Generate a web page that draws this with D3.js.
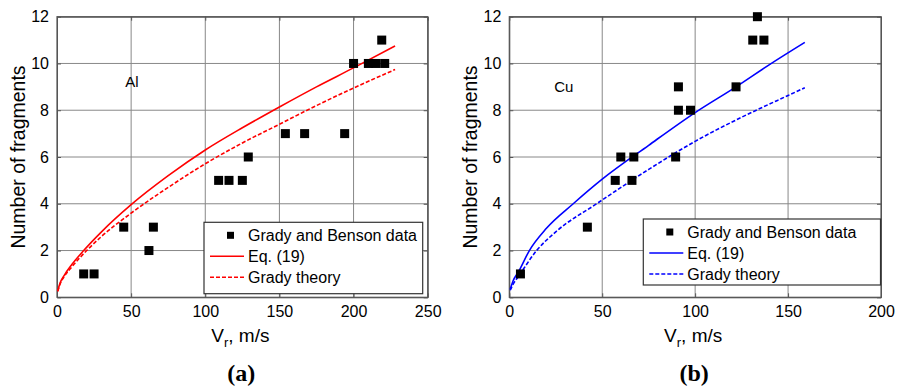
<!DOCTYPE html>
<html>
<head>
<meta charset="utf-8">
<script src="https://cdn.jsdelivr.net/npm/d3@7"></script>
<style>
  body { margin: 0; background: #fff; }
  text { font-family: "Liberation Sans", Arial, sans-serif; }
</style>
</head>
<body>
<svg id="chart" width="903" height="390"></svg>
<script>
// Al panel (a)
const alDataV = [18, 25, 45, 62, 65, 109, 116, 125, 129, 154, 167, 194, 200, 210, 215, 219, 221];
const alDataN = [1, 1, 3, 2, 3, 5, 5, 5, 6, 7, 7, 7, 10, 10, 10, 11, 10];
const alEqV = [0.5, 2, 5, 10, 18, 30, 50, 75, 100, 125, 150, 175, 200, 228];
const alEqN = [0.28, 0.6, 0.95, 1.4, 2.0, 2.8, 3.96, 5.2, 6.3, 7.25, 8.14, 9.0, 9.81, 10.75];
const alGradyV = [0.5, 2, 5, 10, 20, 30, 50, 75, 100, 125, 150, 175, 200, 228];
const alGradyN = [0.25, 0.55, 0.9, 1.3, 2.0, 2.6, 3.6, 4.7, 5.71, 6.6, 7.4, 8.2, 8.95, 9.74];
const alTicksX = [0, 50, 100, 150, 200, 250];

// Cu panel (b)
const cuDataV = [6, 42, 57, 60, 66, 67, 89.5, 91, 91, 97.5, 122, 131, 133.5, 137];
const cuDataN = [1, 3, 5, 6, 5, 6, 6, 8, 9, 8, 9, 11, 12, 11];
const cuEqV = [0.5, 2, 5, 10.8, 20, 34.4, 50, 75, 100, 122, 140, 159];
const cuEqN = [0.35, 0.7, 1.1, 2.0, 2.95, 4.0, 5.05, 6.5, 7.9, 9.0, 9.95, 10.9];
const cuGradyV = [0.5, 2, 5, 14.7, 25, 47, 75, 100, 125, 150, 159];
const cuGradyN = [0.3, 0.55, 0.9, 2.0, 2.8, 4.0, 5.47, 6.67, 7.7, 8.63, 8.96];
const cuTicksX = [0, 50, 100, 150, 200];

const ticksY = [0, 2, 4, 6, 8, 10, 12];
const legendLabels = ["Grady and Benson data", "Eq. (19)", "Grady theory"];

const svg = d3.select("#chart");

function drawPanel(p) {
  const x = d3.scaleLinear().domain([0, p.xMax]).range([p.left, p.right]);
  const y = d3.scaleLinear().domain([0, 12]).range([297.3, 16.7]);
  const g = svg.append("g");
  const h = y(0) - y(12), w = x(p.xMax) - x(0);

  // grid
  const grid = g.append("g").attr("class", "grid");
  grid.selectAll("line.gv").data(p.ticksX.slice(1, -1)).join("line").attr("class", "gv")
    .attr("x1", d => x(d)).attr("x2", d => x(d)).attr("y1", y(0)).attr("y2", y(12));
  grid.selectAll("line.gh").data(ticksY.slice(1, -1)).join("line").attr("class", "gh")
    .attr("x1", x(0)).attr("x2", x(p.xMax)).attr("y1", d => y(d)).attr("y2", d => y(d));
  grid.selectAll("line").attr("stroke", "#888").attr("stroke-width", 1);

  // axes, ticks inward on all sides
  const axes = g.append("g");
  axes.append("g").attr("transform", "translate(0," + y(0) + ")")
    .call(d3.axisBottom(x).tickValues(p.ticksX).tickSizeInner(-4).tickSizeOuter(0).tickPadding(8))
    .call(a => a.selectAll("text").attr("font-size", 16).attr("fill", "#000"));
  axes.append("g").attr("transform", "translate(" + x(0) + ",0)")
    .call(d3.axisLeft(y).tickValues(ticksY).tickSizeInner(-4).tickSizeOuter(0).tickPadding(8))
    .call(a => a.selectAll("text").attr("font-size", 16).attr("fill", "#000"));
  axes.append("g").attr("transform", "translate(0," + y(12) + ")")
    .call(d3.axisTop(x).tickValues(p.ticksX).tickSizeInner(-4).tickSizeOuter(0).tickFormat(""));
  axes.append("g").attr("transform", "translate(" + x(p.xMax) + ",0)")
    .call(d3.axisRight(y).tickValues(ticksY).tickSizeInner(-4).tickSizeOuter(0).tickFormat(""));
  axes.selectAll(".domain").attr("stroke", "#555");
  axes.selectAll(".tick line").attr("stroke", "#555");

  g.append("rect")
    .attr("x", x(0)).attr("y", y(12)).attr("width", w).attr("height", h)
    .attr("fill", "none").attr("stroke", "#555").attr("stroke-width", 1.2);

  // curves
  const line = d3.line().x(d => x(d[0])).y(d => y(d[1])).curve(d3.curveMonotoneX);
  g.append("path").datum(d3.zip(p.eqV, p.eqN)).attr("d", line)
    .attr("fill", "none").attr("stroke", p.color).attr("stroke-width", 1.6);
  g.append("path").datum(d3.zip(p.gradyV, p.gradyN)).attr("d", line)
    .attr("fill", "none").attr("stroke", p.color).attr("stroke-width", 1.6).attr("stroke-dasharray", "4,2");

  // data points
  g.append("g").selectAll("rect").data(d3.zip(p.dataV, p.dataN)).enter().append("rect")
    .attr("x", d => x(d[0]) - 4.5).attr("y", d => y(d[1]) - 4.5)
    .attr("width", 9).attr("height", 9).attr("fill", "#000");

  // material label
  g.append("text").attr("x", x(p.labelV)).attr("y", y(p.labelN))
    .attr("font-size", 15).text(p.label);

  // legend
  const lg = g.append("g");
  lg.append("rect").attr("x", p.leg[0]).attr("y", p.leg[1])
    .attr("width", p.leg[2] - p.leg[0]).attr("height", p.leg[3] - p.leg[1])
    .attr("fill", "#fff").attr("stroke", "#333").attr("stroke-width", 1.2);
  const rowY = [p.leg[1] + 13, p.leg[1] + 34, p.leg[1] + 55];
  const lx = p.leg[0] + 6, tx = p.leg[0] + 44;
  lg.append("rect").attr("x", lx + 17).attr("y", rowY[0] - 3.5).attr("width", 7).attr("height", 7).attr("fill", "#000");
  lg.append("line").attr("x1", lx).attr("x2", lx + 34).attr("y1", rowY[1]).attr("y2", rowY[1])
    .attr("stroke", p.color).attr("stroke-width", 1.6);
  lg.append("line").attr("x1", lx).attr("x2", lx + 34).attr("y1", rowY[2]).attr("y2", rowY[2])
    .attr("stroke", p.color).attr("stroke-width", 1.6).attr("stroke-dasharray", "4,2");
  lg.selectAll("text.leg").data(legendLabels).enter().append("text").attr("class", "leg")
    .attr("x", tx).attr("y", (d, i) => rowY[i] + 6)
    .attr("font-size", 16).text(d => d);

  // axis labels
  const cx = (p.left + p.right) / 2 - 2;
  const xl = g.append("text").attr("x", cx).attr("y", 341.5).attr("text-anchor", "middle").attr("font-size", 19);
  xl.append("tspan").text("V");
  xl.append("tspan").attr("font-size", 13).attr("dy", 5).text("r");
  xl.append("tspan").attr("dy", -5).text(", m/s");

  g.append("text").attr("transform", "translate(" + (p.left - 32) + ",157) rotate(-90)")
    .attr("text-anchor", "middle").attr("font-size", 19.5).text("Number of fragments");

  g.append("text").attr("x", cx + 1).attr("y", 381)
    .attr("text-anchor", "middle").attr("font-size", 24).attr("font-weight", "bold")
    .style("font-family", "'Liberation Serif', 'Times New Roman', serif").text(p.tag);
}

drawPanel({
  left: 57, right: 427.7, xMax: 250, ticksX: alTicksX, color: "#ff0000",
  dataV: alDataV, dataN: alDataN, eqV: alEqV, eqN: alEqN, gradyV: alGradyV, gradyN: alGradyN,
  label: "Al", labelV: 46, labelN: 9.0, leg: [204, 222.3, 422.7, 293.7], tag: "(a)"
});
drawPanel({
  left: 509.3, right: 881, xMax: 200, ticksX: cuTicksX, color: "#0000ff",
  dataV: cuDataV, dataN: cuDataN, eqV: cuEqV, eqN: cuEqN, gradyV: cuGradyV, gradyN: cuGradyN,
  label: "Cu", labelV: 24.2, labelN: 8.8, leg: [643.3, 219, 880.5, 285], tag: "(b)"
});
</script>
</body>
</html>
